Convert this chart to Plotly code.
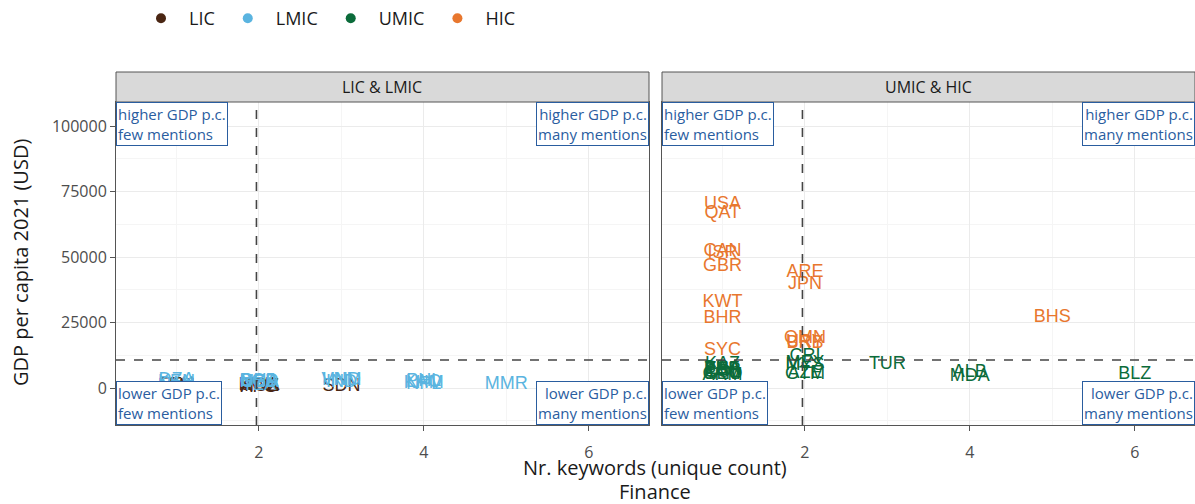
import plotly.graph_objects as go
from plotly.subplots import make_subplots

# ---- data: country codes, number of finance keywords, GDP per capita 2021 (USD)
lic_codes = ["ETH", "MWI", "AFG", "MOZ", "UGA", "RWA", "SDN"]
lic_keywords = [1, 1, 2, 2, 2, 2, 3]
lic_gdp = [900, 600, 400, 500, 850, 820, 750]

lmic_codes = ["DZA", "PAK", "KEN", "BGD", "NGA", "GHA", "UZB", "TZA",
              "IND", "VNM", "HND", "NPL", "KHM", "LAO", "PHL", "MMR"]
lmic_keywords = [1, 1, 1, 2, 2, 2, 2, 2, 3, 3, 3, 4, 4, 4, 4, 5]
lmic_gdp = [3000, 1500, 2100, 2500, 2100, 2400, 2000, 1100,
            2250, 3000, 2800, 1200, 1600, 2300, 2600, 1200]

umic_codes = ["THA", "BRA", "COL", "PER", "ZAF", "ARM", "GEO", "JAM", "KAZ",
              "CRI", "MEX", "MYS", "AZE", "GTM", "TUR", "ALB", "MDA", "BLZ"]
umic_keywords = [1, 1, 1, 1, 1, 1, 1, 1, 1,
                 2, 2, 2, 2, 2, 3, 4, 4, 6]
umic_gdp = [7100, 7500, 6100, 6600, 7000, 4700, 5000, 5200, 9000,
            12000, 9400, 8600, 5400, 5000, 9000, 6000, 4500, 5300]

hic_codes = ["USA", "QAT", "CAN", "ISR", "GBR", "KWT", "BHR", "SYC",
             "ARE", "JPN", "OMN", "URY", "BRB", "BHS"]
hic_keywords = [1, 1, 1, 1, 1, 1, 1, 1, 2, 2, 2, 2, 2, 5]
hic_gdp = [70200, 66800, 52000, 51500, 46500, 32500, 26500, 14200,
           44300, 39500, 19000, 17300, 16900, 27000]

# reference lines
keyword_cut = 1.97
gdp_cut = 10700

panel_titles = ["LIC & LMIC", "UMIC & HIC"]
x_ticks = [2, 4, 6]
y_ticks = [0, 25000, 50000, 75000, 100000]

groups = [
    ("LIC", lic_codes, lic_keywords, lic_gdp, "#4a2613", 1),
    ("LMIC", lmic_codes, lmic_keywords, lmic_gdp, "#5ab4e0", 1),
    ("UMIC", umic_codes, umic_keywords, umic_gdp, "#0b6b3a", 2),
    ("HIC", hic_codes, hic_keywords, hic_gdp, "#e8772e", 2),
]

W, H = 1195, 504
px_x = lambda p: p / W
px_y = lambda p: 1 - p / H

dom_left = [px_x(116), px_x(649)]
dom_right = [px_x(662), 1.0]
dom_y = [px_y(425), px_y(102)]
strip_y = [px_y(102), px_y(72)]

fig = make_subplots(rows=1, cols=2, shared_yaxes=True)

label_font = dict(family="Liberation Sans, Arial, sans-serif", size=18)

for name, codes, kw, gdp, color, col in groups:
    fig.add_trace(go.Scatter(
        x=kw, y=gdp, text=codes, mode="text",
        textposition="middle center",
        textfont=dict(color=color, **label_font),
        showlegend=False, hoverinfo="text+x+y"), row=1, col=col)
    # legend key
    fig.add_trace(go.Scatter(
        x=[None], y=[None], mode="markers", name=name,
        marker=dict(color=color, size=10), showlegend=True), row=1, col=col)

axis_font = dict(family="Open Sans, sans-serif", size=16, color="#4d4d4d")
grid_major = "#ebebeb"
grid_minor = "#f5f5f5"
border = "#555555"

common_x = dict(range=[0.267, 6.73], tickvals=x_ticks, ticks="outside", ticklen=5,
                tickcolor="#555", tickfont=axis_font, ticklabelstandoff=8,
                showgrid=True, gridcolor=grid_major,
                minor=dict(dtick=1, tick0=1, showgrid=True, gridcolor=grid_minor),
                zeroline=False, showline=True, linecolor=border, mirror=True, linewidth=1)
fig.update_xaxes(domain=dom_left, row=1, col=1, **common_x)
fig.update_xaxes(domain=dom_right, row=1, col=2, **common_x)

common_y = dict(range=[-14100, 109200], tickvals=y_ticks, tickformat="d", showgrid=True,
                gridcolor=grid_major,
                minor=dict(dtick=12500, tick0=12500, showgrid=True, gridcolor=grid_minor),
                zeroline=False, showline=True, linecolor=border, mirror=True, linewidth=1,
                domain=dom_y)
fig.update_yaxes(row=1, col=1, ticks="outside", ticklen=5, tickcolor="#555",
                 tickfont=axis_font, **common_y)
fig.update_yaxes(row=1, col=2, ticks="", showticklabels=False, **common_y)

# dashed reference lines in each panel
for xa, ya in [("x", "y"), ("x2", "y2")]:
    fig.add_shape(type="line", xref=xa, yref=ya, x0=keyword_cut, x1=keyword_cut,
                  y0=-14100, y1=109200, line=dict(color="#444", width=1.6, dash="dash"))
    fig.add_shape(type="line", xref=xa, yref=ya, x0=0.267, x1=6.73,
                  y0=gdp_cut, y1=gdp_cut, line=dict(color="#444", width=1.6, dash="dash"))

# facet strips
for dom, title in zip([dom_left, dom_right], panel_titles):
    fig.add_shape(type="rect", xref="paper", yref="paper", x0=dom[0], x1=dom[1],
                  y0=strip_y[0], y1=strip_y[1], fillcolor="#d9d9d9",
                  line=dict(color=border, width=1))
    fig.add_annotation(xref="paper", yref="paper", x=(dom[0] + dom[1]) / 2,
                       y=(strip_y[0] + strip_y[1]) / 2, xanchor="center",
                       yanchor="middle", text=title, showarrow=False,
                       font=dict(family="Open Sans, sans-serif", size=16, color="#1a1a1a"))

# quadrant boxes
box_font = dict(family="Open Sans, sans-serif", size=15, color="#2a5d9f")
quadrants = [
    (0, 1, "left", "top", "higher GDP p.c.<br>few mentions"),
    (1, 1, "right", "top", "higher GDP p.c.<br>many mentions"),
    (0, 0, "left", "bottom", "lower GDP p.c.<br>few mentions"),
    (1, 0, "right", "bottom", "lower GDP p.c.<br>many mentions"),
]
for xa, ya in [("x domain", "y domain"), ("x2 domain", "y2 domain")]:
    for qx, qy, xan, yan, txt in quadrants:
        fig.add_annotation(xref=xa, yref=ya, x=qx, y=qy, xanchor=xan, yanchor=yan,
                           text=txt, align=xan, showarrow=False, font=box_font,
                           bgcolor="white", bordercolor="#2a5d9f", borderwidth=1,
                           borderpad=1)

# axis titles
title_font = dict(family="Open Sans, sans-serif", size=20, color="#1a1a1a")
fig.add_annotation(xref="paper", yref="paper", x=px_x(655), y=px_y(467),
                   xanchor="center", yanchor="middle",
                   text="Nr. keywords (unique count)", showarrow=False, font=title_font)
fig.add_annotation(xref="paper", yref="paper", x=px_x(655), y=px_y(491),
                   xanchor="center", yanchor="middle",
                   text="Finance", showarrow=False, font=title_font)
fig.add_annotation(xref="paper", yref="paper", x=px_x(20), y=px_y(263),
                   xanchor="center", yanchor="middle",
                   text="GDP per capita 2021 (USD)", textangle=-90, showarrow=False,
                   font=title_font)

fig.update_layout(
    width=W, height=H, margin=dict(l=0, r=0, t=0, b=0),
    plot_bgcolor="white", paper_bgcolor="white",
    legend=dict(orientation="h", x=px_x(133), y=1, xanchor="left", yanchor="top",
                itemwidth=46,
                font=dict(family="Open Sans, sans-serif", size=18, color="#1a1a1a")),
)

fig.write_html("out.html")
